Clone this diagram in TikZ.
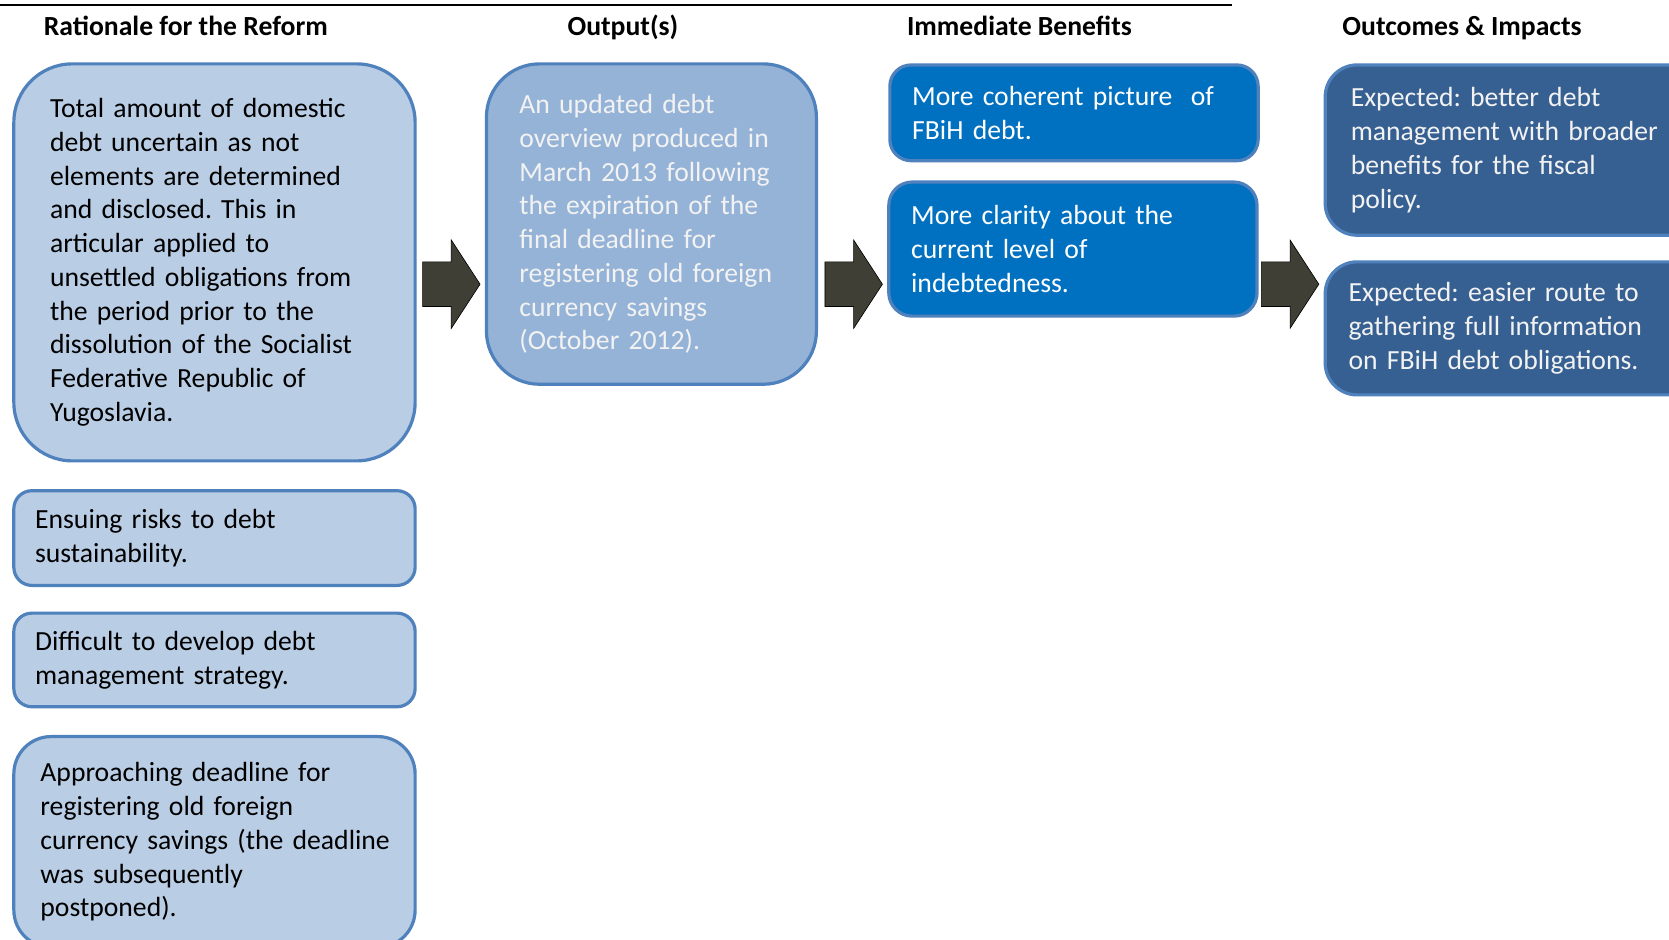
\documentclass[tikz,border=0pt]{standalone}
\usepackage{fontspec}
\setmainfont{Carlito}
\frenchspacing
\hyphenpenalty=10000

\definecolor{paleblue}{HTML}{B9CDE5}
\definecolor{midblue}{HTML}{95B3D7}
\definecolor{brightblue}{HTML}{0070C0}
\definecolor{deepblue}{HTML}{376092}
\definecolor{edgeblue}{HTML}{4F81BD}
\definecolor{arrowgray}{HTML}{403F35}
\definecolor{softwhite}{HTML}{F2F2F2}

\tikzset{
  box/.style={draw=edgeblue, line width=3pt, rectangle, anchor=north west,
    outer sep=0pt, inner ysep=0pt, align=left,
    font=\fontsize{26}{31.7}\selectfont},
  rationale/.style={box, fill=paleblue, text=black},
  output/.style={box, fill=midblue, text=softwhite},
  benefit/.style={box, fill=brightblue, text=white},
  outcome/.style={box, fill=deepblue, text=softwhite},
  header/.style={anchor=base west, inner sep=0pt,
    font=\fontsize{26}{31.7}\selectfont\bfseries},
  blockarrow/.style={fill=arrowgray, draw=black, line width=0.6pt},
}

\begin{document}
\begin{tikzpicture}[x=1pt, y=-1pt]
\useasboundingbox (0,0) rectangle (1568,883);
\clip (0,0) rectangle (1568,883);
\fill[white] (0,0) rectangle (1568,883);

% rule across the top
\draw[line width=2pt] (0,5) -- (1157,5);

% column headings
\node[header] (h1) at (41,33) {Rationale for the Reform};
\node[header] (h2) at (533,33) {Output(s)};
\node[header] (h3) at (852,33) {Immediate Benefits};
\node[header] (h4) at (1261,33) {Outcomes \& Impacts};

% rationale column
\node[rationale, minimum width=377pt, minimum height=373pt, inner xsep=34pt,
      text width=309pt, rounded corners=55pt] (r1) at (13,60)
  {Total amount of domestic\\debt uncertain as not\\elements are determined\\and disclosed. This in\\articular applied to\\unsettled obligations from\\the period prior to the\\dissolution of the Socialist\\Federative Republic of\\Yugoslavia.};
\node[rationale, minimum width=377pt, minimum height=89pt, inner xsep=20pt,
      text width=337pt, rounded corners=17pt] (r2) at (13,461)
  {Ensuing risks to debt\\sustainability.};
\node[rationale, minimum width=377pt, minimum height=88pt, inner xsep=20pt,
      text width=337pt, rounded corners=17pt] (r3) at (13,576)
  {Difficult to develop debt\\management strategy.};
\node[rationale, minimum width=377pt, minimum height=198pt, inner xsep=25pt,
      text width=327pt, rounded corners=35pt] (r4) at (13,692)
  {Approaching deadline for\\registering old foreign\\\mbox{currency savings (the deadline}\\was subsequently\\postponed).};

% output column
\node[output, minimum width=310pt, minimum height=301pt, inner xsep=31pt,
      text width=248pt, rounded corners=50pt] (o1) at (457,60)
  {An updated debt\\overview produced in\\March 2013 following\\the expiration of the\\final deadline for\\registering old foreign\\currency savings\\(October 2012).};

% immediate benefits column
\node[benefit, minimum width=346pt, minimum height=90pt, inner xsep=21pt,
      text width=304pt, rounded corners=20pt] (b1) at (836,61)
  {More coherent picture\ \ of\\FBiH debt.};
\node[benefit, minimum width=346pt, minimum height=126pt, inner xsep=21pt,
      text width=304pt, rounded corners=22pt] (b2) at (835,171)
  {More clarity about the\\current level of\\indebtedness.};

% outcomes and impacts column
\node[outcome, minimum width=360pt, minimum height=160pt, inner xsep=24pt,
      text width=312pt, rounded corners=30pt] (i1) at (1245,61)
  {Expected: better debt\\management with broader\\benefits for the fiscal\\policy.};
\node[outcome, minimum width=360pt, minimum height=125pt, inner xsep=22pt,
      text width=316pt, rounded corners=30pt] (i2) at (1245,246)
  {Expected: easier route to\\gathering full information\\on FBiH debt obligations.};

% block arrows between the columns
\coordinate (a1) at (397,267);
\coordinate (a2) at (775,267);
\coordinate (a3) at (1185,267);
\foreach \s in {a1,a2,a3}{
  \draw[blockarrow] (\s) ++(0,-21) -- ++(27,0) -- ++(0,-20.5) -- ++(27,41.5)
    -- ++(-27,41.5) -- ++(0,-20.5) -- ++(-27,0) -- cycle;
}
\end{tikzpicture}
\end{document}
